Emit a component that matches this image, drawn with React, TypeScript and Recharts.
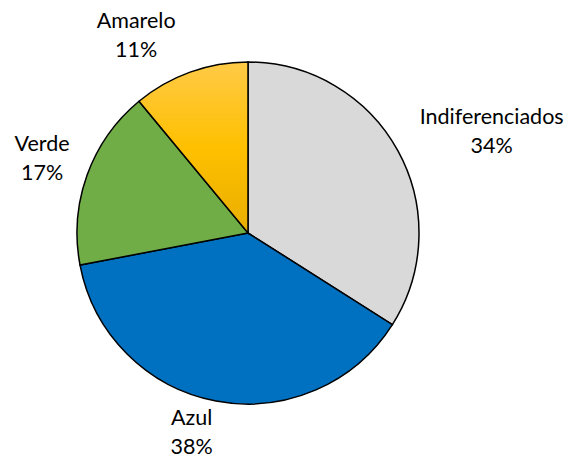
import React from "react";
import { PieChart, Pie, Cell } from "recharts";

const categories = ["Indiferenciados", "Azul", "Verde", "Amarelo"];
const values = [34, 38, 17, 11];
const percentLabels = ["34%", "38%", "17%", "11%"];
const fills = ["#D9D9D9", "#0070C0", "#70AD47", "url(#amareloGrad)"];
// label nudges relative to a radial anchor (outerRadius + 50)
const labelNudges = [
  [50, 4],
  [-15, -19],
  [2, -1],
  [-37, 9],
];

const data = categories.map((name, i) => ({ name, value: values[i], pct: percentLabels[i] }));

const RAD = Math.PI / 180;
const FONT = "Lato, 'Open Sans', sans-serif";

const renderLabel = (props: any) => {
  const { cx, cy, midAngle, outerRadius, index } = props;
  const r = outerRadius + 50;
  const x = cx + r * Math.cos(-midAngle * RAD) + labelNudges[index][0];
  const y = cy + r * Math.sin(-midAngle * RAD) + labelNudges[index][1];
  return (
    <g key={`lbl-${index}`}>
      <text x={x} y={y - 14.5} textAnchor="middle" dominantBaseline="central" fill="#000" fontSize={21.5} fontFamily={FONT}>
        {data[index].name}
      </text>
      <text x={x} y={y + 14.5} textAnchor="middle" dominantBaseline="central" fill="#000" fontSize={21.5} fontFamily={FONT}>
        {data[index].pct}
      </text>
    </g>
  );
};

export default function App() {
  return (
    <div style={{ position: "absolute", left: 0, top: 0, width: 568, height: 459, background: "#fff" }}>
      <PieChart width={568} height={459} margin={{ top: 0, right: 0, bottom: 0, left: 0 }}>
        <defs>
          <linearGradient id="amareloGrad" x1="0" y1="0" x2="0" y2="1">
            <stop offset="0%" stopColor="#FFCA47" />
            <stop offset="50%" stopColor="#FFC000" />
            <stop offset="100%" stopColor="#E8AE00" />
          </linearGradient>
        </defs>
        <Pie
          data={data}
          dataKey="value"
          nameKey="name"
          cx={248}
          cy={233}
          outerRadius={171}
          startAngle={90}
          endAngle={-270}
          stroke="#000"
          strokeWidth={1.5}
          label={renderLabel}
          labelLine={false}
          isAnimationActive={false}
        >
          {data.map((d, i) => (
            <Cell key={d.name} fill={fills[i]} />
          ))}
        </Pie>
      </PieChart>
    </div>
  );
}
